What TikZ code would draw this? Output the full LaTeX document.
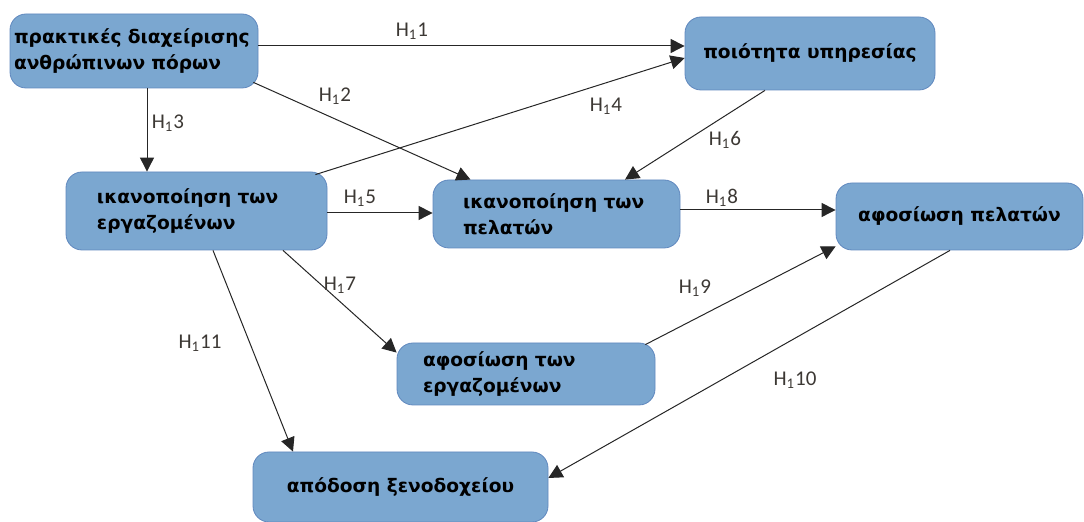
\documentclass[tikz,border=0pt]{standalone}
\usepackage{fontspec}
\usepackage{tikz}
\usetikzlibrary{arrows.meta}
\newfontfamily\boxfont{DejaVu Sans}
\newfontfamily\hypfont{Carlito}
\definecolor{boxblue}{RGB}{123,167,208}
\definecolor{boxline}{RGB}{96,136,190}
\definecolor{hypgray}{RGB}{60,56,52}

\begin{document}
\begin{tikzpicture}[x=0.5pt, y=-0.5pt, semithick]
  \tikzstyle{factor}=[fill=boxblue,draw=boxline,thin,rounded corners=8pt,text=black,font=\boxfont\bfseries\fontsize{9.3}{13}\selectfont]
  \tikzstyle{hyp}=[text=hypgray,font=\hypfont\fontsize{10.5}{12}\selectfont,inner sep=0pt]
  \tikzstyle{link}=[draw=black!85,line width=0.5pt,-{Triangle[length=7pt,width=7pt]}]

  \useasboundingbox (0,0) rectangle (1084,522);

  \node[factor,align=left,inner xsep=2pt,text width=120pt,minimum height=37pt] (HRM) at (134,51) {πρακτικές διαχείρισης\\ανθρώπινων πόρων};
  \node[factor,minimum width=125pt,minimum height=36.5pt] (QS) at (810,53.5) {ποιότητα υπηρεσίας};
  \node[factor,align=left,inner xsep=15.5pt,text width=99.5pt,minimum height=39pt] (ES) at (196.5,211) {ικανοποίηση των\\εργαζομένων};
  \node[factor,align=left,inner xsep=15pt,text width=93.5pt,minimum height=34pt] (CS) at (556.5,214) {ικανοποίηση των\\πελατών};
  \node[factor,minimum width=123.5pt,minimum height=33.5pt] (CL) at (959.5,216.5) {αφοσίωση πελατών};
  \node[factor,align=left,inner xsep=13pt,text width=103pt,minimum height=31pt] (EL) at (526,374) {αφοσίωση των\\εργαζομένων};
  \node[factor,minimum width=147.5pt,minimum height=35pt] (HP) at (400.5,487) {απόδοση ξενοδοχείου};

  \path[link] ([yshift=2.5pt]HRM.east) -- ([yshift=2.5pt]HRM.east -| QS.west);
  \path[link] ([xshift=-2.5pt,yshift=3pt]HRM.south east) -- ([xshift=-43pt]CS.north);
  \path[link] ([xshift=6.5pt]HRM.south) -- ([xshift=6.5pt]HRM.south |- ES.north);
  \path[link] ([xshift=-6pt,yshift=-1.5pt]ES.north east) -- ([yshift=-2.25pt]QS.west);
  \path[link] ([yshift=-1pt]ES.east) -- ([yshift=-1pt]ES.east -| CS.west);
  \path[link] ([xshift=-22.5pt]QS.south) -- ([xshift=34.25pt]CS.north);
  \path[link] ([xshift=43.25pt]ES.south) -- ([yshift=-5pt]EL.north west);
  \path[link] ([yshift=2pt]CS.east) -- ([yshift=2pt]CS.east -| CL.west);
  \path[link] ([xshift=-5pt,yshift=-1pt]EL.north east) -- ([yshift=2pt]CL.south west);
  \path[link] ([xshift=-4.75pt]CL.south) -- ([yshift=4.5pt]HP.east);
  \path[link] ([xshift=8.25pt]ES.south) -- ([xshift=-53.75pt]HP.north);

  \node[hyp] (h1)  at (412,31)  {H\textsubscript{1}1};
  \node[hyp] (h2)  at (335,96)  {H\textsubscript{1}2};
  \node[hyp] (h3)  at (168,123) {H\textsubscript{1}3};
  \node[hyp] (h4)  at (606,106) {H\textsubscript{1}4};
  \node[hyp] (h5)  at (360,198) {H\textsubscript{1}5};
  \node[hyp] (h6)  at (725,140) {H\textsubscript{1}6};
  \node[hyp] (h7)  at (340,285) {H\textsubscript{1}7};
  \node[hyp] (h8)  at (722,198) {H\textsubscript{1}8};
  \node[hyp] (h9)  at (695,288) {H\textsubscript{1}9};
  \node[hyp] (h10) at (795,380) {H\textsubscript{1}10};
  \node[hyp] (h11) at (200,343) {H\textsubscript{1}11};

\end{tikzpicture}
\end{document}
